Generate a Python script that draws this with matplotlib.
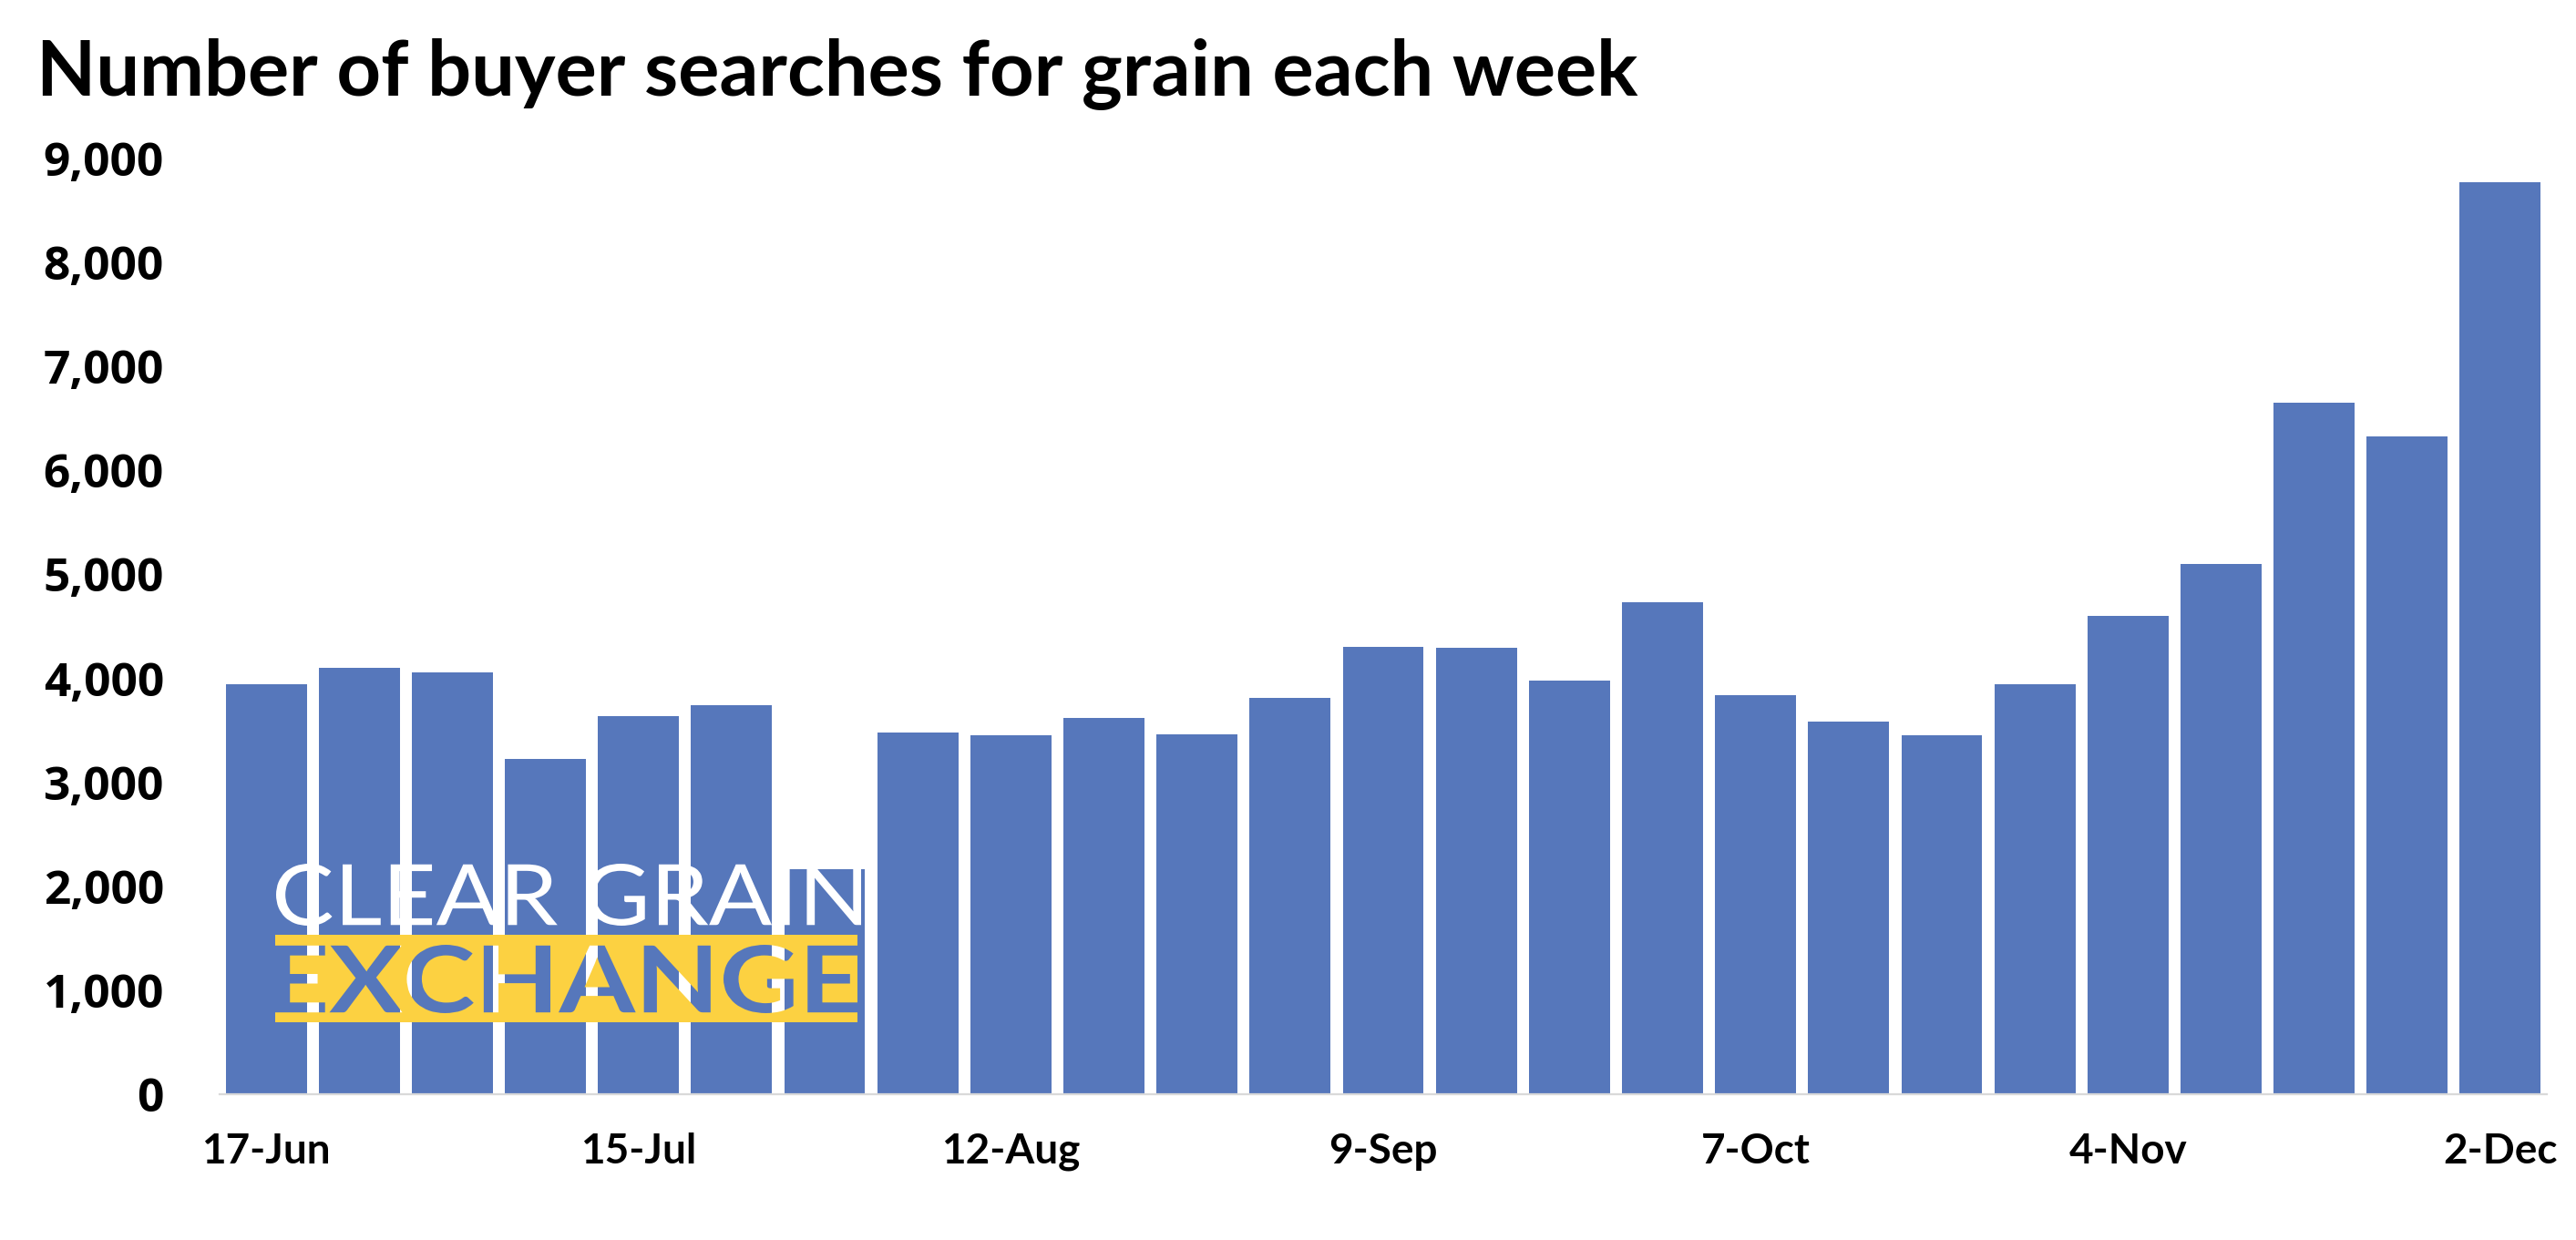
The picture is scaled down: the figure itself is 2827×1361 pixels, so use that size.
import matplotlib
matplotlib.use("Agg")
import matplotlib.pyplot as plt
import numpy as np
from matplotlib.path import Path
from matplotlib.patches import PathPatch
from matplotlib.textpath import TextPath
from matplotlib.font_manager import FontProperties
from matplotlib.ticker import FuncFormatter
from matplotlib.transforms import Affine2D

# weekly buyer searches
weeks = ['17-Jun', '24-Jun', '1-Jul', '8-Jul', '15-Jul', '22-Jul', '29-Jul',
         '5-Aug', '12-Aug', '19-Aug', '26-Aug', '2-Sep', '9-Sep', '16-Sep',
         '23-Sep', '30-Sep', '7-Oct', '14-Oct', '21-Oct', '28-Oct', '4-Nov',
         '11-Nov', '18-Nov', '25-Nov', '2-Dec']
searches = [3945, 4100, 4055, 3225, 3635, 3740, 2165, 3475, 3455, 3615,
            3460, 3815, 4305, 4290, 3975, 4735, 3840, 3580, 3455, 3945,
            4600, 5100, 6650, 6325, 8775]
y_ticks = list(range(0, 9001, 1000))

title = 'Number of buyer searches for grain each week'
bar_color = '#5677BB'
logo_yellow = '#FCD141'

W, H = 2827, 1361
fig = plt.figure(figsize=(W / 100, H / 100), dpi=100)
ax = fig.add_axes([241 / W, 1 - 1201 / H, (2795 - 241) / W, (1201 - 174) / H])

x = np.arange(len(weeks))
ax.bar(x, searches, width=0.87, color=bar_color)
ax.set_xlim(-0.5, len(weeks) - 0.5)
ax.set_ylim(0, 9000)

for s in ['top', 'right', 'left']:
    ax.spines[s].set_visible(False)
ax.spines['bottom'].set_color('#D9D9D9')
ax.spines['bottom'].set_linewidth(1.6)

ax.set_xticks(x[::4], weeks[::4])
ax.set_yticks(y_ticks)
ax.yaxis.set_major_formatter(FuncFormatter(lambda v, p: f'{v:,.0f}'))
ax.tick_params(length=0)
ax.tick_params(axis='x', pad=30)
ax.tick_params(axis='y', pad=44)
for lab in ax.get_xticklabels():
    lab.set_fontfamily('Lato')
    lab.set_fontweight('bold')
    lab.set_fontsize(33)
for lab in ax.get_yticklabels():
    lab.set_fontfamily('Open Sans')
    lab.set_fontweight('bold')
    lab.set_fontsize(37)

fig.text(40 / W, 1 - 104 / H, title, family='Lato', weight='bold',
         fontsize=61, va='baseline', ha='left')


# logo: paths fitted into boxes given in reference pixels (top-left origin)
def fit(path, x0, y0, x1, y1):
    ext = path.get_extents()
    t = (Affine2D().translate(-ext.x0, -ext.y0)
         .scale((x1 - x0) / ext.width, (y1 - y0) / ext.height)
         .translate(x0, H - y1))
    return t.transform_path(path)


px_to_fig = Affine2D().scale(1 / W, 1 / H) + fig.transFigure

top_word = fit(TextPath((0, 0), 'CLEAR GRAIN', size=100,
                        prop=FontProperties(family='Lato', weight='normal')),
               303, 948, 945, 1016)
fig.add_artist(PathPatch(top_word, facecolor='white', edgecolor='none',
                         transform=px_to_fig, zorder=5))

word = fit(TextPath((0, 0), 'EXCHANGE', size=100,
                    prop=FontProperties(family='Lato', weight='bold')),
           302, 1037, 941, 1112)
poly = word.to_polygons()[0]
area = 0.5 * np.sum(poly[:-1, 0] * poly[1:, 1] - poly[1:, 0] * poly[:-1, 1])
rect = [(302, H - 1122), (941, H - 1122), (941, H - 1026), (302, H - 1026)]
if area > 0:
    rect = rect[::-1]
band = Path(rect + [rect[0]], [Path.MOVETO, Path.LINETO, Path.LINETO,
                               Path.LINETO, Path.CLOSEPOLY])
fig.add_artist(PathPatch(Path.make_compound_path(band, word),
                         facecolor=logo_yellow, edgecolor='none',
                         transform=px_to_fig, zorder=5))

fig.savefig('out.png', dpi=100)
